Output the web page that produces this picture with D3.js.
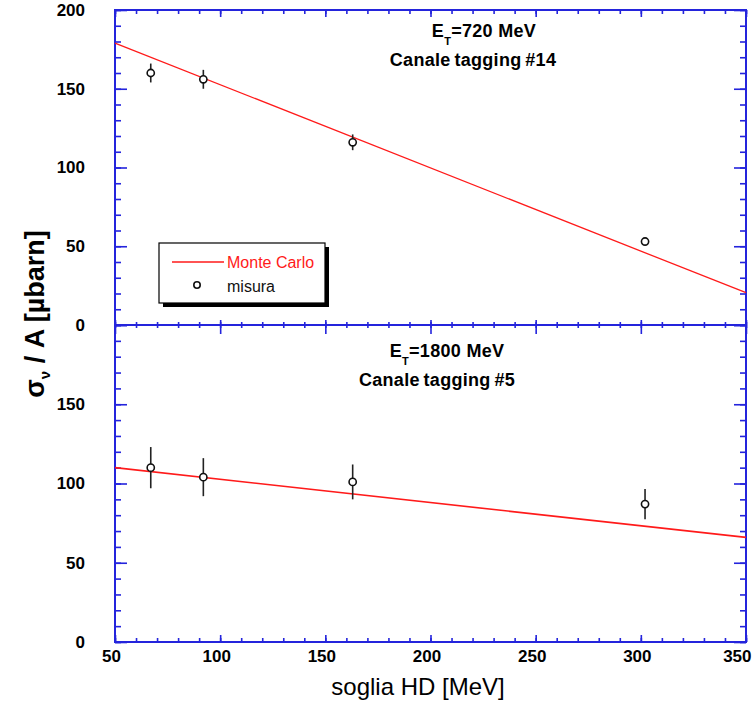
<!DOCTYPE html>
<html>
<head>
<meta charset="utf-8">
<script src="https://cdn.jsdelivr.net/npm/d3@7"></script>
<style>
  body { margin:0; background:#fff; }
  svg { display:block; font-family:"Liberation Sans", Arial, sans-serif; }
</style>
</head>
<body>
<div id="chart"></div>
<script>
// soglia HD thresholds (MeV) where the measurements sit
const thresholds = [67, 92, 163, 302];

// top panel: E_T = 720 MeV, tagging channel #14
const topValues = [160, 156, 116, 53];
const topErrors = [6, 6, 5, 0];

// bottom panel: E_T = 1800 MeV, tagging channel #5
const bottomValues = [110, 104, 101, 87];
const bottomErrors = [13, 12, 11, 9.5];

// Monte Carlo lines (end points)
const mcX = [50, 350];
const mcTop = [179, 20.5];
const mcBottom = [110, 66];

const xTickLabels = [50, 100, 150, 200, 250, 300, 350];
const yTickLabelsTop = [0, 50, 100, 150, 200];
const yTickLabelsBottom = [0, 50, 100, 150];

const W = 755, H = 706;
const plotL = 115, plotR = 746, plotT = 10, plotM = 325, plotB = 642;
const axisColor = "#2424dc";

const svg = d3.select("#chart").append("svg")
  .attr("width", W).attr("height", H);

const x = d3.scaleLinear().domain([50, 350]).range([plotL, plotR]);
const yTop = d3.scaleLinear().domain([0, 200]).range([plotM, plotT]);
const yBot = d3.scaleLinear().domain([0, 200]).range([plotB, plotM]);

const xMinor = d3.range(50, 351, 10);
const xMajor = d3.range(50, 351, 50);
const yMinor = d3.range(0, 201, 10);
const yMajor = d3.range(0, 201, 50);

// draw a tick-only axis (no labels), inward ticks
function tickAxis(gen, values, size, transform) {
  const g = svg.append("g")
    .attr("transform", transform)
    .call(gen.tickValues(values).tickSize(size).tickFormat(""));
  g.select(".domain").remove();
  g.selectAll("line").attr("stroke", axisColor).attr("stroke-width", 1.6);
  return g;
}

// frame ticks
for (const y of [yTop, yBot]) {
  tickAxis(d3.axisLeft(y), yMinor, -6, `translate(${plotL},0)`);
  tickAxis(d3.axisLeft(y), yMajor, -12, `translate(${plotL},0)`);
  tickAxis(d3.axisRight(y), yMinor, -6, `translate(${plotR},0)`);
  tickAxis(d3.axisRight(y), yMajor, -12, `translate(${plotR},0)`);
}
// top of top panel
tickAxis(d3.axisTop(x), xMinor, -4, `translate(0,${plotT})`);
tickAxis(d3.axisTop(x), xMajor, -7, `translate(0,${plotT})`);
// middle boundary, ticks both sides
tickAxis(d3.axisBottom(x), xMinor, -3, `translate(0,${plotM})`);
tickAxis(d3.axisBottom(x), xMajor, -5, `translate(0,${plotM})`);
tickAxis(d3.axisTop(x), xMinor, -3, `translate(0,${plotM})`);
tickAxis(d3.axisTop(x), xMajor, -9, `translate(0,${plotM})`);
// bottom
tickAxis(d3.axisBottom(x), xMinor, -4, `translate(0,${plotB})`);
tickAxis(d3.axisBottom(x), xMajor, -7, `translate(0,${plotB})`);

// frame lines
svg.append("rect")
  .attr("x", plotL).attr("y", plotT)
  .attr("width", plotR - plotL).attr("height", plotB - plotT)
  .attr("fill", "none").attr("stroke", axisColor).attr("stroke-width", 2);
svg.append("line")
  .attr("x1", plotL).attr("x2", plotR).attr("y1", plotM).attr("y2", plotM)
  .attr("stroke", axisColor).attr("stroke-width", 2);

// tick labels
function labelAxis(gen, values, transform, pad) {
  const g = svg.append("g")
    .attr("transform", transform)
    .call(gen.tickValues(values).tickSize(0).tickPadding(pad).tickFormat(d3.format("d")));
  g.select(".domain").remove();
  g.selectAll("text")
    .attr("fill", "#000")
    .attr("font-size", 17)
    .attr("font-weight", "bold")
    .attr("font-family", "'Liberation Sans', Arial, sans-serif");
  return g;
}
labelAxis(d3.axisLeft(yTop), yTickLabelsTop, `translate(${plotL},0)`, 30);
labelAxis(d3.axisLeft(yBot), yTickLabelsBottom, `translate(${plotL},0)`, 30);
const xl = labelAxis(d3.axisBottom(x), xTickLabels, `translate(0,${plotB})`, 8);
xl.selectAll("text").attr("dx", -4);
xl.selectAll("text").filter(d => d === 350).attr("text-anchor", "end").attr("dx", 5);

// Monte Carlo lines
const line = d3.line().x(d => x(d[0]));
svg.append("path")
  .attr("d", line.y(d => yTop(d[1]))(mcX.map((v, i) => [v, mcTop[i]])))
  .attr("fill", "none").attr("stroke", "#ff1a1a").attr("stroke-width", 1.3);
svg.append("path")
  .attr("d", line.y(d => yBot(d[1]))(mcX.map((v, i) => [v, mcBottom[i]])))
  .attr("fill", "none").attr("stroke", "#ff1a1a").attr("stroke-width", 1.6);

// measurements
function points(y, values, errors) {
  const data = thresholds.map((t, i) => ({ t, v: values[i], e: errors[i] }));
  const g = svg.append("g");
  g.selectAll("line.err").data(data.filter(d => d.e > 0)).join("line")
    .attr("class", "err")
    .attr("x1", d => x(d.t)).attr("x2", d => x(d.t))
    .attr("y1", d => y(d.v - d.e)).attr("y2", d => y(d.v + d.e))
    .attr("stroke", "#222").attr("stroke-width", 1.6);
  g.selectAll("circle").data(data).join("circle")
    .attr("cx", d => x(d.t)).attr("cy", d => y(d.v))
    .attr("r", 3.6)
    .attr("fill", "#fff").attr("stroke", "#111").attr("stroke-width", 1.6);
}
points(yTop, topValues, topErrors);
points(yBot, bottomValues, bottomErrors);

// panel titles
function panelTitle(cxE, cxC, yE, energy, channel) {
  const t = svg.append("text")
    .attr("x", cxE).attr("y", yE)
    .attr("text-anchor", "middle")
    .attr("font-size", 18).attr("font-weight", "bold")
    .attr("letter-spacing", 0.3);
  t.append("tspan").text("E");
  t.append("tspan").attr("font-size", 11).attr("dy", 8).text("T");
  t.append("tspan").attr("dy", -8).text(`=${energy} MeV`);
  svg.append("text")
    .attr("x", cxC).attr("y", yE + 29)
    .attr("text-anchor", "middle")
    .attr("font-size", 18).attr("font-weight", "bold")
    .attr("letter-spacing", 0.3).attr("word-spacing", -1.5)
    .text(`Canale tagging #${channel}`);
}
panelTitle(484, 473, 37, 720, 14);
panelTitle(447, 437, 357, 1800, 5);

// legend
const lg = svg.append("g");
lg.append("rect").attr("x", 163).attr("y", 247).attr("width", 166).attr("height", 60).attr("fill", "#000");
lg.append("rect").attr("x", 159).attr("y", 243).attr("width", 166).attr("height", 60)
  .attr("fill", "#fff").attr("stroke", "#000").attr("stroke-width", 1.2);
lg.append("line").attr("x1", 172).attr("x2", 224).attr("y1", 262).attr("y2", 262)
  .attr("stroke", "#ff1a1a").attr("stroke-width", 1.3);
lg.append("text").attr("x", 227).attr("y", 268).attr("font-size", 16)
  .attr("fill", "#ff1a1a").text("Monte  Carlo");
lg.append("circle").attr("cx", 197).attr("cy", 285).attr("r", 3.2)
  .attr("fill", "#fff").attr("stroke", "#111").attr("stroke-width", 1.6);
lg.append("text").attr("x", 227).attr("y", 292).attr("font-size", 16)
  .attr("fill", "#111").text("misura");

// axis titles
const yl = svg.append("text")
  .attr("transform", "translate(44,314) rotate(-90)")
  .attr("text-anchor", "middle")
  .attr("font-size", 27).attr("font-weight", "bold");
yl.append("tspan").text("σ");
yl.append("tspan").attr("font-size", 15).attr("dy", 6).text("ν");
yl.append("tspan").attr("dy", -6).text(" / A [µbarn]");

svg.append("text")
  .attr("x", 418).attr("y", 695)
  .attr("text-anchor", "middle")
  .attr("font-size", 24)
  .text("soglia HD [MeV]");
</script>
</body>
</html>
